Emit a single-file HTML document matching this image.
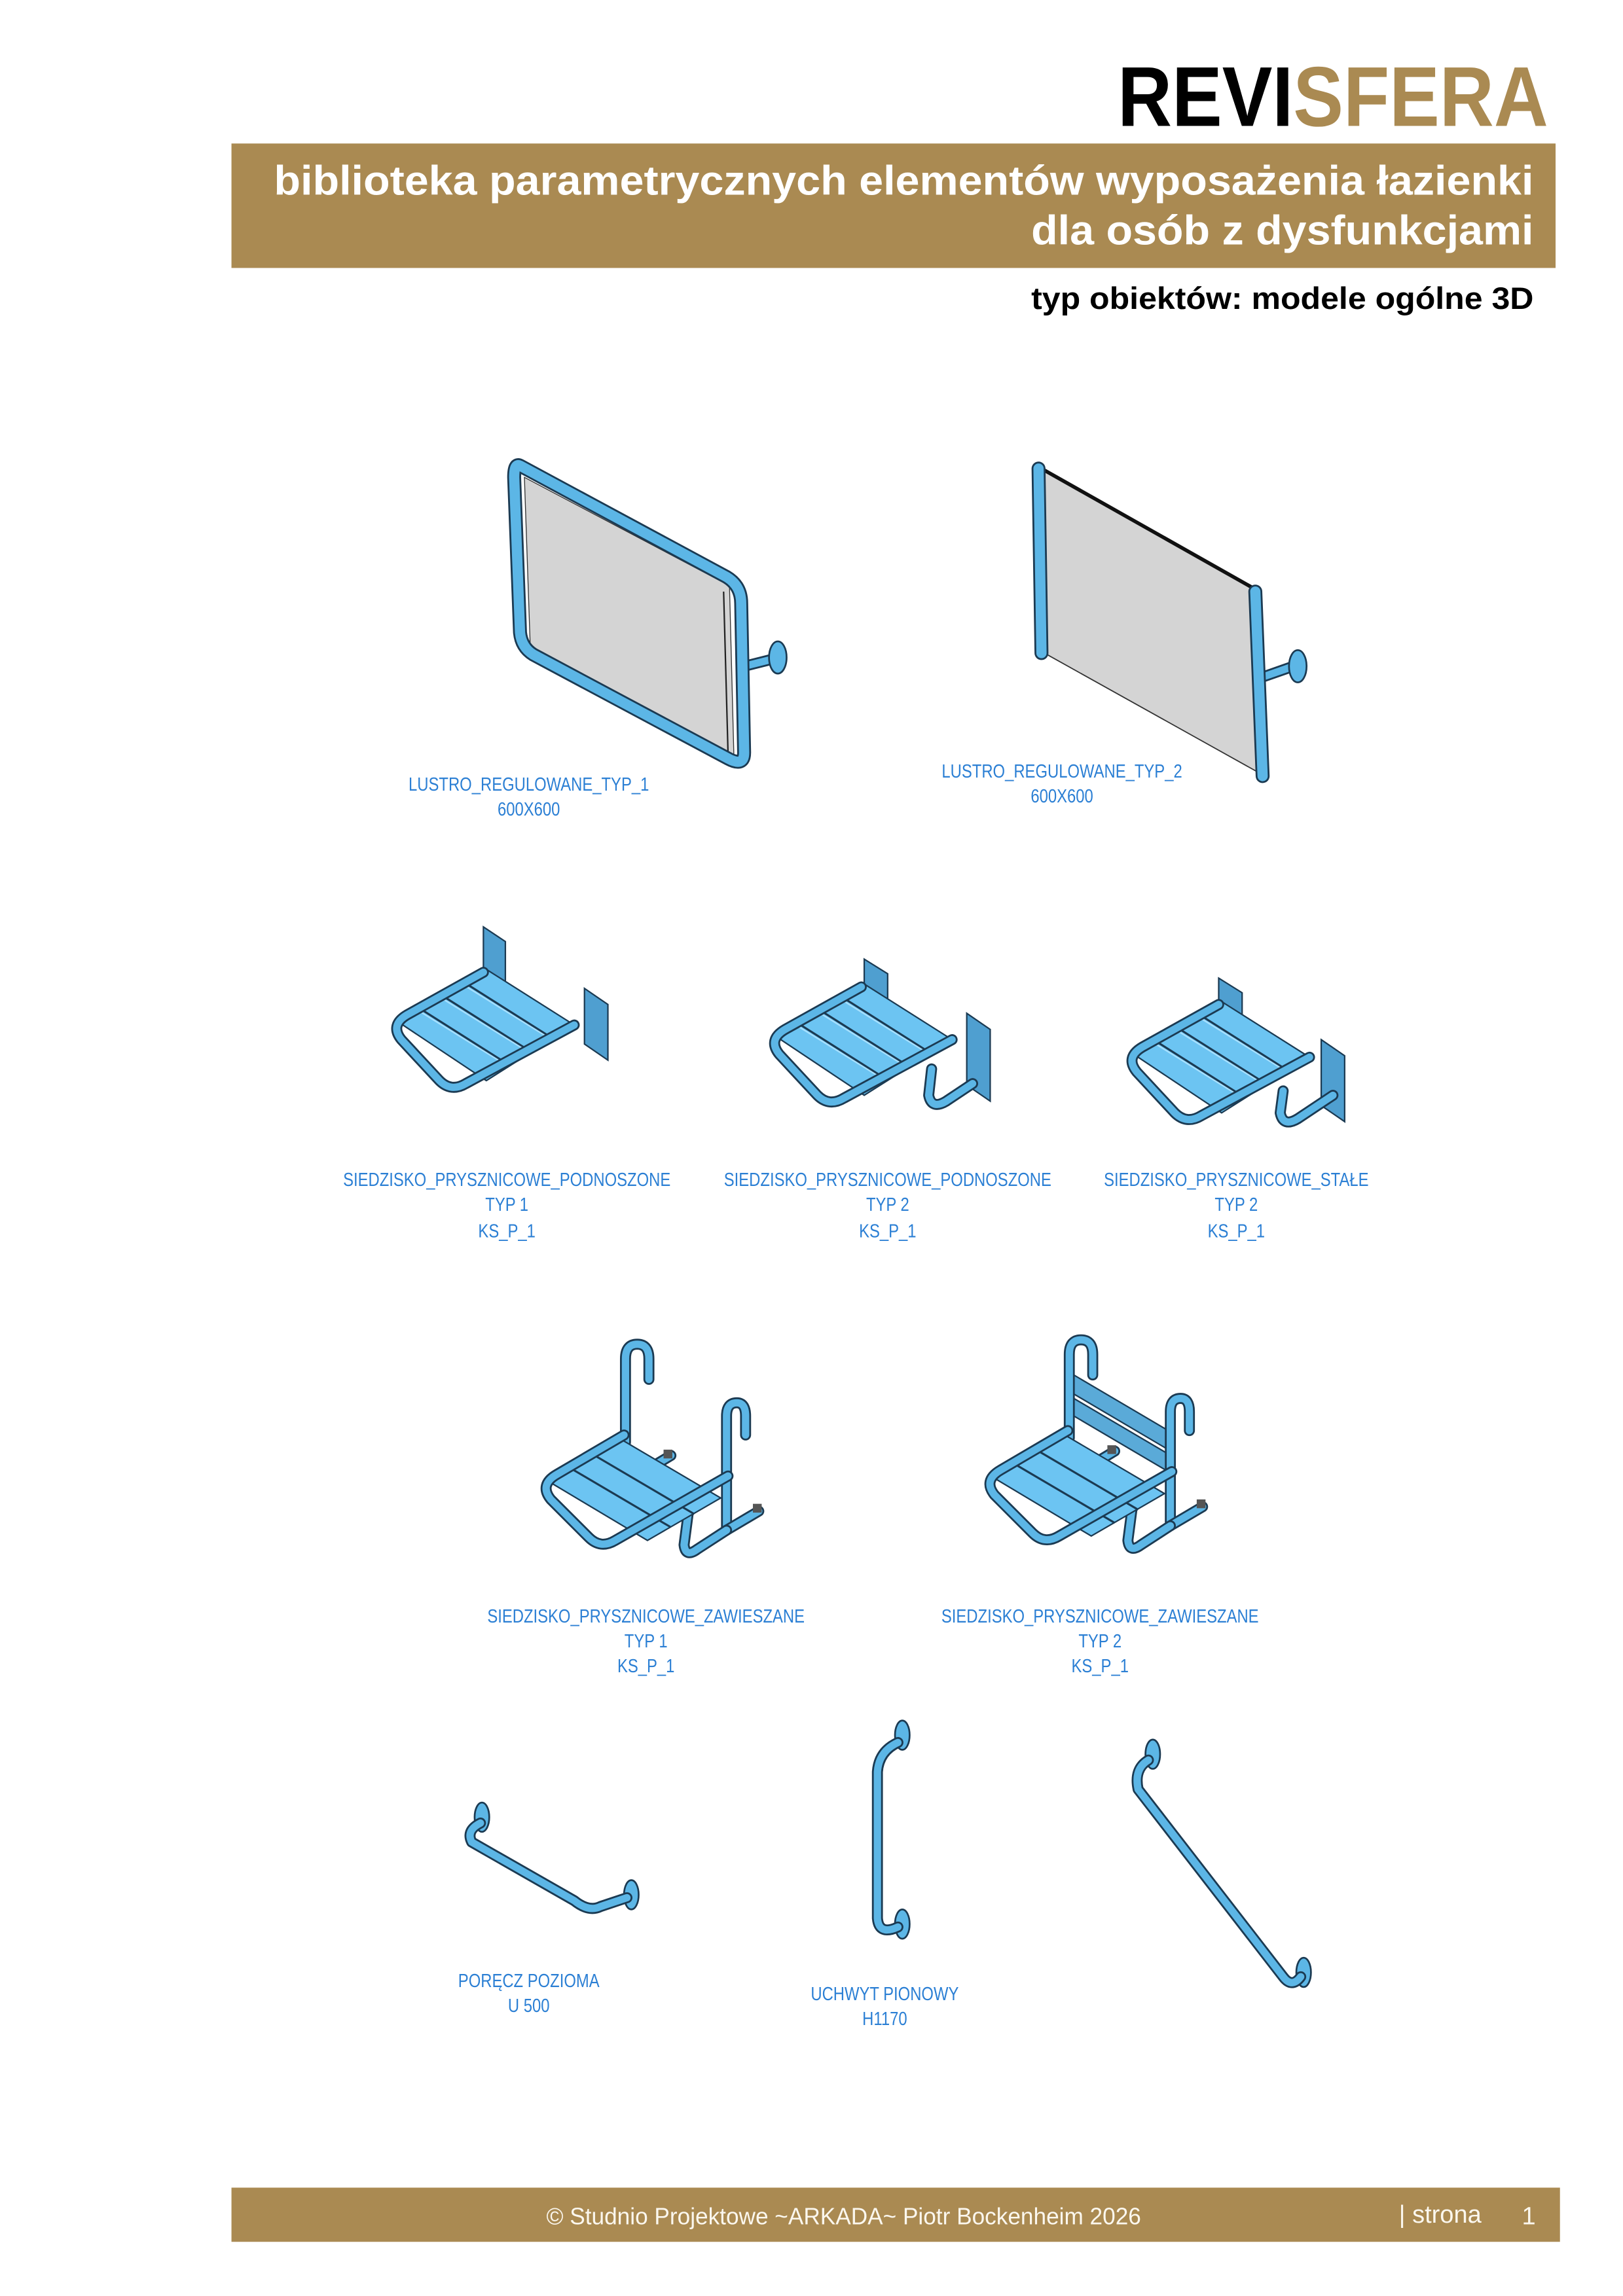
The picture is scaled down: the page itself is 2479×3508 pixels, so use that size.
<!DOCTYPE html>
<html><head><meta charset="utf-8"><style>
html,body{margin:0;padding:0;background:#fff}
svg{display:block}
.t{fill:none;stroke:#1b3a52;stroke-width:7.5;stroke-linecap:round;stroke-linejoin:round}
.b{fill:none;stroke:#5cb6e6;stroke-width:5;stroke-linecap:round;stroke-linejoin:round}
.mt{stroke-width:9.5}
.mb{stroke-width:7}
.lb{font-family:"Liberation Sans",sans-serif;font-size:13px;fill:#2b7fd4;text-anchor:middle}
.pl{fill:#4f9fd0;stroke:#1b3a52;stroke-width:1}
.sl{fill:#6cc4f2;stroke:#1b3a52;stroke-width:1}
</style></head><body>
<svg width="2479" height="3508" viewBox="0 0 1108 1568" xmlns="http://www.w3.org/2000/svg">
<rect width="1108" height="1568" fill="#fff"/>
<text x="763" y="86" font-family="Liberation Sans,sans-serif" font-weight="bold" font-size="58" textLength="294" lengthAdjust="spacingAndGlyphs"><tspan fill="#000">REVI</tspan><tspan fill="#aa8a52">SFERA</tspan></text>
<rect x="158" y="98" width="904" height="85" fill="#aa8a52"/>
<text x="187" y="133" font-family="Liberation Sans,sans-serif" font-weight="bold" font-size="28" fill="#fff" textLength="860" lengthAdjust="spacingAndGlyphs">biblioteka parametrycznych elementów wyposażenia łazienki</text>
<text x="704" y="167" font-family="Liberation Sans,sans-serif" font-weight="bold" font-size="28" fill="#fff" textLength="343" lengthAdjust="spacingAndGlyphs">dla osób z dysfunkcjami</text>
<text x="704" y="211" font-family="Liberation Sans,sans-serif" font-weight="bold" font-size="21" fill="#000" textLength="343" lengthAdjust="spacingAndGlyphs">typ obiektów: modele ogólne 3D</text>
<rect x="158" y="1494" width="907" height="37" fill="#aa8a52"/>
<text x="373" y="1519" font-family="Liberation Sans,sans-serif" font-size="16" fill="#fbf7ee" textLength="406" lengthAdjust="spacingAndGlyphs">© Studnio Projektowe ~ARKADA~ Piotr Bockenheim 2026</text>
<text x="955" y="1518" font-family="Liberation Sans,sans-serif" font-size="17" fill="#fbf7ee">| strona</text>
<text x="1039" y="1519" font-family="Liberation Sans,sans-serif" font-size="17" fill="#fbf7ee">1</text>

<!-- mirror 1 -->
<polygon points="358,326 498,400 501,516 362,442" fill="#d4d4d4" stroke="#333" stroke-width="0.6"/>
<line x1="494" y1="404" x2="497" y2="514" stroke="#222" stroke-width="1"/>
<path class="t" d="M508,455 L528,450"/><path class="b" d="M508,455 L528,450"/>
<ellipse cx="531" cy="449" rx="6" ry="11" fill="#5cb6e6" stroke="#1b3a52" stroke-width="1.2"/>
<path class="t mt" d="M355,318 L496,394 Q506,400 506,412 L508,514 Q508,524 497,518 L364,447 Q356,442 355,432 L351,326 Q351,316 355,318 Z"/>
<path class="b mb" d="M355,318 L496,394 Q506,400 506,412 L508,514 Q508,524 497,518 L364,447 Q356,442 355,432 L351,326 Q351,316 355,318 Z"/>
<!-- mirror 2 -->
<polygon points="711,320 858,403 860,528 713,446" fill="#d4d4d4" stroke="#333" stroke-width="0.8"/>
<line x1="711" y1="320" x2="858" y2="403" stroke="#111" stroke-width="2.5"/>
<path class="t" d="M863,462 L883,455"/><path class="b" d="M863,462 L883,455"/>
<ellipse cx="886" cy="455" rx="6" ry="11" fill="#5cb6e6" stroke="#1b3a52" stroke-width="1.2"/>
<path class="t mt" d="M709,320 L711,446"/><path class="b mb" d="M709,320 L711,446"/>
<path class="t mt" d="M857,404 L862,530"/><path class="b mb" d="M857,404 L862,530"/>
<text class="lb" transform="translate(361,540) scale(0.82,1)">LUSTRO_REGULOWANE_TYP_1</text>
<text class="lb" transform="translate(361,557) scale(0.82,1)">600X600</text>
<text class="lb" transform="translate(725,531) scale(0.82,1)">LUSTRO_REGULOWANE_TYP_2</text>
<text class="lb" transform="translate(725,548) scale(0.82,1)">600X600</text>

<defs>
<g id="seat">
<polygon class="sl" points="272,698 332,662 392,700 332,738"/>
<path d="M287,689 L347,727 M302,680 L362,718 M317,671 L377,709" stroke="#1b3a52" stroke-width="1.4" fill="none"/>
<path d="M287,691 L345,727 M302,682 L360,718 M317,673 L375,709" stroke="#a8e0ff" stroke-width="1" fill="none"/>
<path class="t" d="M330,664 L278,693 Q266,700 274,710 L300,738 Q308,746 318,740 L392,700"/>
<path class="b" d="M330,664 L278,693 Q266,700 274,710 L300,738 Q308,746 318,740 L392,700"/>
</g>
</defs>
<polygon class="pl" points="330,633 345,643 345,684 330,674"/>
<polygon class="pl" points="399,675 415,686 415,724 399,713"/>
<use href="#seat"/>
<polygon class="pl" points="590,655 606,665 606,700 590,690"/>
<polygon class="pl" points="660,692 676,703 676,752 660,741"/>
<path class="t" d="M636,730 L634,748 Q636,758 646,752 L664,740"/><path class="b" d="M636,730 L634,748 Q636,758 646,752 L664,740"/>
<use href="#seat" transform="translate(258,10)"/>
<polygon class="pl" points="832,668 848,678 848,712 832,702"/>
<polygon class="pl" points="902,710 918,721 918,766 902,755"/>
<path class="t" d="M876,745 L874,760 Q876,770 886,764 L910,748"/><path class="b" d="M876,745 L874,760 Q876,770 886,764 L910,748"/>
<use href="#seat" transform="translate(502,22)"/>
<text class="lb" transform="translate(346,810) scale(0.82,1)">SIEDZISKO_PRYSZNICOWE_PODNOSZONE</text>
<text class="lb" transform="translate(346,827) scale(0.82,1)">TYP 1</text>
<text class="lb" transform="translate(346,845) scale(0.82,1)">KS_P_1</text>
<text class="lb" transform="translate(606,810) scale(0.82,1)">SIEDZISKO_PRYSZNICOWE_PODNOSZONE</text>
<text class="lb" transform="translate(606,827) scale(0.82,1)">TYP 2</text>
<text class="lb" transform="translate(606,845) scale(0.82,1)">KS_P_1</text>
<text class="lb" transform="translate(844,810) scale(0.82,1)">SIEDZISKO_PRYSZNICOWE_STAŁE</text>
<text class="lb" transform="translate(844,827) scale(0.82,1)">TYP 2</text>
<text class="lb" transform="translate(844,845) scale(0.82,1)">KS_P_1</text>

<defs>
<g id="hseat">
<path class="t" d="M427,985 L427,928 Q427,918 435,918 Q443,918 443,928 L443,942"/>
<path class="b" d="M427,985 L427,928 Q427,918 435,918 Q443,918 443,928 L443,942"/>
<path class="t" d="M448,1000 L458,994"/><path class="b" d="M448,1000 L458,994"/>
<rect x="453" y="990" width="6" height="6" fill="#555"/>
<path class="t" d="M496,1045 L496,967 Q496,958 503,958 Q509,958 509,967 L509,980"/>
<path class="b" d="M496,1045 L496,967 Q496,958 503,958 Q509,958 509,967 L509,980"/>
<path class="t" d="M496,1045 L518,1032"/><path class="b" d="M496,1045 L518,1032"/>
<rect x="514" y="1027" width="6" height="6" fill="#555"/>
<path class="t" d="M470,1032 L467,1055 Q468,1064 476,1058 L496,1045"/>
<path class="b" d="M470,1032 L467,1055 Q468,1064 476,1058 L496,1045"/>
<polygon class="sl" points="375,1012 424,983 492,1023 442,1052"/>
<path d="M390,1003 L458,1043 M406,994 L474,1034" stroke="#1b3a52" stroke-width="1.4" fill="none"/>
<path class="t" d="M426,980 L380,1007 Q368,1014 376,1024 L402,1050 Q410,1058 420,1052 L497,1008"/>
<path class="b" d="M426,980 L380,1007 Q368,1014 376,1024 L402,1050 Q410,1058 420,1052 L497,1008"/>
</g>
</defs>
<use href="#hseat"/>
<polygon class="pl" style="fill:#5aaad8" points="728,936 801,979 801,992 728,949"/>
<polygon class="pl" style="fill:#5aaad8" points="728,952 801,995 801,1007 728,964"/>
<use href="#hseat" transform="translate(303,-3)"/>
<text class="lb" transform="translate(441,1108) scale(0.82,1)">SIEDZISKO_PRYSZNICOWE_ZAWIESZANE</text>
<text class="lb" transform="translate(441,1125) scale(0.82,1)">TYP 1</text>
<text class="lb" transform="translate(441,1142) scale(0.82,1)">KS_P_1</text>
<text class="lb" transform="translate(751,1108) scale(0.82,1)">SIEDZISKO_PRYSZNICOWE_ZAWIESZANE</text>
<text class="lb" transform="translate(751,1125) scale(0.82,1)">TYP 2</text>
<text class="lb" transform="translate(751,1142) scale(0.82,1)">KS_P_1</text>

<ellipse cx="329" cy="1241" rx="5" ry="10" fill="#5cb6e6" stroke="#1b3a52" stroke-width="1.2"/>
<ellipse cx="431" cy="1294" rx="5" ry="10" fill="#5cb6e6" stroke="#1b3a52" stroke-width="1.2"/>
<path class="t" d="M328,1245 Q318,1250 322,1258 L392,1298 Q402,1306 410,1302 L428,1296"/>
<path class="b" d="M328,1245 Q318,1250 322,1258 L392,1298 Q402,1306 410,1302 L428,1296"/>
<ellipse cx="616" cy="1185" rx="5" ry="10" fill="#5cb6e6" stroke="#1b3a52" stroke-width="1.2"/>
<ellipse cx="616" cy="1314" rx="5" ry="10" fill="#5cb6e6" stroke="#1b3a52" stroke-width="1.2"/>
<path class="t" d="M613,1190 Q600,1196 599,1210 L599,1310 Q600,1322 613,1316"/>
<path class="b" d="M613,1190 Q600,1196 599,1210 L599,1310 Q600,1322 613,1316"/>
<ellipse cx="787" cy="1198" rx="5" ry="10" fill="#5cb6e6" stroke="#1b3a52" stroke-width="1.2"/>
<ellipse cx="890" cy="1347" rx="5" ry="10" fill="#5cb6e6" stroke="#1b3a52" stroke-width="1.2"/>
<path class="t" d="M784,1202 Q774,1208 777,1222 L876,1350 Q882,1358 888,1350"/>
<path class="b" d="M784,1202 Q774,1208 777,1222 L876,1350 Q882,1358 888,1350"/>
<text class="lb" transform="translate(361,1357) scale(0.82,1)">PORĘCZ POZIOMA</text>
<text class="lb" transform="translate(361,1374) scale(0.82,1)">U 500</text>
<text class="lb" transform="translate(604,1366) scale(0.82,1)">UCHWYT PIONOWY</text>
<text class="lb" transform="translate(604,1383) scale(0.82,1)">H1170</text>
</svg>
</body></html>
